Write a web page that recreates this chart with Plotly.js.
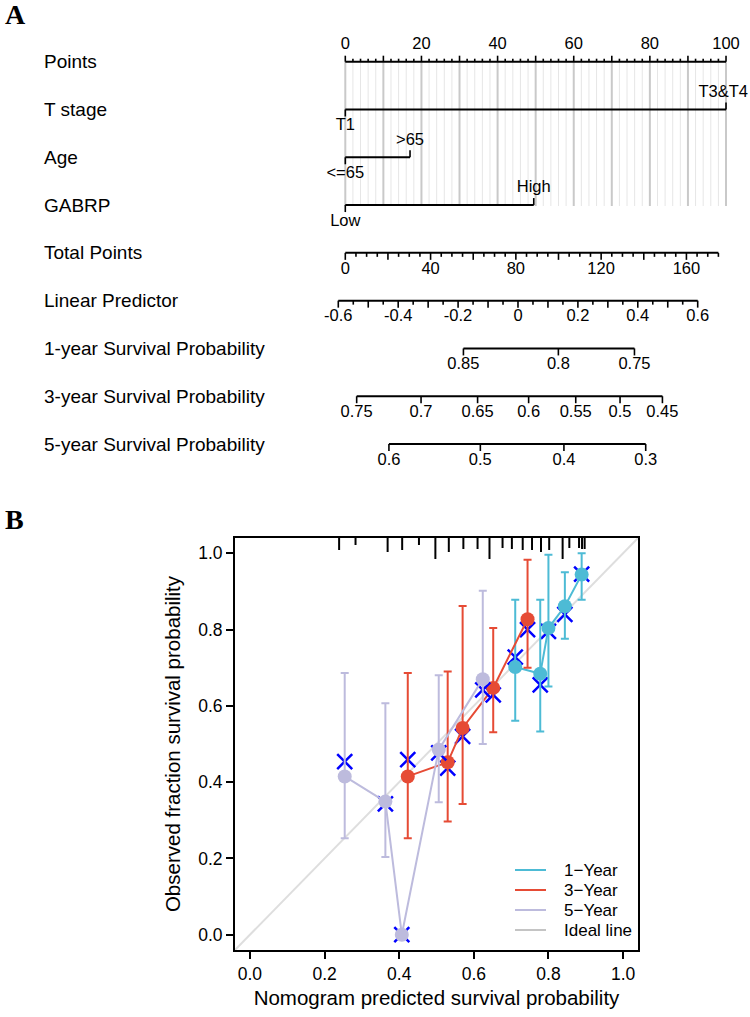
<!DOCTYPE html>
<html>
<head>
<meta charset="utf-8">
<script src="https://cdn.plot.ly/plotly-3.0.1.min.js"></script>
<style>html,body{margin:0;padding:0;background:#fff;}#chart{width:750px;height:1017px;}</style>
</head>
<body>
<div id="chart"></div>
<script>
// ---------------- Nomogram data (panel A) ----------------
const rowNames = ["Points", "T stage", "Age", "GABRP", "Total Points", "Linear Predictor",
  "1-year Survival Probability", "3-year Survival Probability", "5-year Survival Probability"];
const pointsLabels = [0, 20, 40, 60, 80, 100];
const tLevels = ["T1", "T3&T4"];
const tPoints = [0, 100];
const ageLevels = ["<=65", ">65"];
const agePoints = [0, 17];
const gabrpLevels = ["Low", "High"];
const gabrpPoints = [0, 49.5];
const totalPointsLabels = [0, 40, 80, 120, 160];
const totalPointsMax = 175;
const pointsPerTotal = 0.56;          // points-scale units per total point
const lpLabels = [-0.6, -0.4, -0.2, 0, 0.2, 0.4, 0.6];
const lpZeroPoints = 45.36;           // points-scale position of linear predictor 0
const pointsPerLP = 78.67;            // points-scale units per unit of linear predictor
const surv1Ticks = [0.85, 0.8, 0.75];
const surv3Ticks = [0.75, 0.7, 0.65, 0.6, 0.55, 0.5, 0.45];
const surv5Ticks = [0.6, 0.5, 0.4, 0.3];
const baselineCumHazard = [0.195, 0.493, 0.786]; // 1-, 3-, 5-year

// ---------------- Calibration data (panel B) ----------------
const seriesNames = ["1\u2212Year", "3\u2212Year", "5\u2212Year"];
const pred1 = [0.711, 0.778, 0.800, 0.844, 0.889];
const obs1  = [0.702, 0.684, 0.804, 0.861, 0.944];
const lo1   = [0.561, 0.533, 0.651, 0.776, 0.878];
const hi1   = [0.878, 0.878, 0.996, 0.950, 1.000];
const km1   = [0.728, 0.655, 0.795, 0.840, 0.945];

const pred3 = [0.423, 0.530, 0.570, 0.652, 0.744];
const obs3  = [0.415, 0.452, 0.542, 0.647, 0.827];
const lo3   = [0.253, 0.297, 0.343, 0.531, 0.700];
const hi3   = [0.686, 0.690, 0.862, 0.804, 0.983];
const km3   = [0.459, 0.437, 0.520, 0.629, 0.800];

const pred5 = [0.254, 0.363, 0.407, 0.506, 0.624];
const obs5  = [0.415, 0.349, 0.000, 0.485, 0.670];
const lo5   = [0.253, 0.204, 0.000, 0.347, 0.500];
const hi5   = [0.686, 0.607, 0.000, 0.680, 0.902];
const km5   = [0.454, 0.343, 0.000, 0.477, 0.642];

const rugX    = [0.239, 0.283, 0.369, 0.408, 0.453, 0.497, 0.533, 0.572, 0.610, 0.642, 0.677,
                 0.702, 0.731, 0.756, 0.780, 0.802, 0.838, 0.856, 0.882, 0.890, 0.897];
const rugFreq = [12, 7, 14, 12, 7, 21, 14, 11, 11, 21, 10, 11, 12, 12, 14, 12, 21, 10, 10, 11, 11];

const calTicks = [0, 0.2, 0.4, 0.6, 0.8, 1.0];
const legendNames = ["1\u2212Year", "3\u2212Year", "5\u2212Year", "Ideal line"];

// ---------------- styles ----------------
const FONT = "Liberation Sans, Arial, Helvetica, sans-serif";
const colors = ["#4DBBD5", "#E64B35", "#BDBBDD"];
const idealColor = "#DEDEDE";
const legendColors = ["#4DBBD5", "#E64B35", "#BDBBDD", "#C4C4C4"];
const TICKFONT = 16.5;

// geometry of the nomogram's shared x axis (points scale)
const W = 750, H = 1017;
const X_RANGE = [-90.70, 106.30];
const pxToPoints = px => X_RANGE[0] + px / W * (X_RANGE[1] - X_RANGE[0]);
const pointsToPx = p => (p - X_RANGE[0]) / (X_RANGE[1] - X_RANGE[0]) * W;

// row geometry (rows in y-units; 1 row = 47.79 px)
const PX = 1 / 47.79;
const LABOFF = 0.35;

function segs() { return {x: [], y: []}; }
function add(s, x0, y0, x1, y1) { s.x.push(x0, x1, null); s.y.push(y0, y1, null); }

const lines = segs(), ticks = segs(), gridMinor = segs(), gridMajor = segs();
const texts = {x: [], y: [], t: [], pos: []};
function lab(x, y, t) {
  // keep labels inside the page: if a centred label would overflow the right edge, right-align it
  const halfW = 0.3 * TICKFONT * t.length;
  if (pointsToPx(x) + halfW > W - 2) {
    texts.x.push(pxToPoints(W - 2)); texts.pos.push("middle left");
  } else {
    texts.x.push(x); texts.pos.push("middle center");
  }
  texts.y.push(y); texts.t.push(t);
}
function fmt(v) { return String(+v.toFixed(3)); }

// Points axis (row 0)
add(lines, 0, 0, 100, 0);
for (let p = 0; p <= 100; p += 2) {
  const major = p % 10 === 0;
  add(ticks, p, 0, p, -(major ? 6 : 3) * PX);
  add(major ? gridMajor : gridMinor, p, 0, p, 3.02);
}
pointsLabels.forEach(p => lab(p, -LABOFF, String(p)));

// categorical rows
function catRow(row, levels, pts) {
  add(lines, Math.min(...pts), row, Math.max(...pts), row);
  levels.forEach((lv, i) => {
    const dir = i % 2 === 0 ? 1 : -1;
    add(ticks, pts[i], row, pts[i], row + dir * 7 * PX);
    lab(pts[i], row + dir * LABOFF, lv);
  });
}
catRow(1, tLevels, tPoints);
catRow(2, ageLevels, agePoints);
catRow(3, gabrpLevels, gabrpPoints);

// Total points (row 4)
add(lines, 0, 4, totalPointsMax * pointsPerTotal, 4);
for (let t = 0; t <= totalPointsMax; t += 5) {
  add(ticks, t * pointsPerTotal, 4, t * pointsPerTotal, 4 + (t % 20 === 0 ? 7 : 4) * PX);
}
totalPointsLabels.forEach(t => lab(t * pointsPerTotal, 4 + LABOFF, String(t)));

// Linear predictor (row 5)
const lpToP = lp => lpZeroPoints + pointsPerLP * lp;
add(lines, lpToP(lpLabels[0]), 5, lpToP(lpLabels[lpLabels.length - 1]), 5);
for (let k = -12; k <= 12; k++) {
  const lp = k * 0.05;
  add(ticks, lpToP(lp), 5, lpToP(lp), 5 + (k % 2 === 0 ? 7 : 4) * PX);
}
lpLabels.forEach(v => lab(lpToP(v), 5 + LABOFF, fmt(v)));

// Survival rows (6,7,8)
const survToP = (s, h0) => lpToP(Math.log(-Math.log(s)) - Math.log(h0));
[surv1Ticks, surv3Ticks, surv5Ticks].forEach((tk, i) => {
  const row = 6 + i, h0 = baselineCumHazard[i];
  const ps = tk.map(s => survToP(s, h0));
  add(lines, Math.min(...ps), row, Math.max(...ps), row);
  tk.forEach((s, j) => {
    add(ticks, ps[j], row, ps[j], row + 7 * PX);
    lab(ps[j], row + LABOFF, fmt(s));
  });
});

const traces = [];
traces.push({x: gridMinor.x, y: gridMinor.y, mode: "lines", line: {color: "#E6E6E6", width: 1}, hoverinfo: "skip", xaxis: "x", yaxis: "y"});
traces.push({x: gridMajor.x, y: gridMajor.y, mode: "lines", line: {color: "#C9C9C9", width: 2}, hoverinfo: "skip", xaxis: "x", yaxis: "y"});
traces.push({x: lines.x, y: lines.y, mode: "lines", line: {color: "#000", width: 2}, hoverinfo: "skip", xaxis: "x", yaxis: "y"});
traces.push({x: ticks.x, y: ticks.y, mode: "lines", line: {color: "#000", width: 1.6}, hoverinfo: "skip", xaxis: "x", yaxis: "y"});
traces.push({x: texts.x, y: texts.y, text: texts.t, mode: "text", textposition: texts.pos,
  textfont: {family: FONT, size: TICKFONT, color: "#000"}, hoverinfo: "skip", xaxis: "x", yaxis: "y", cliponaxis: false});

// ---------------- Calibration traces ----------------
traces.push({x: [-0.04, 1.04], y: [-0.04, 1.04], mode: "lines", line: {color: idealColor, width: 2},
  hoverinfo: "skip", xaxis: "x2", yaxis: "y2"});

const rug = segs();
const rugMax = Math.max(...rugFreq);
rugX.forEach((x, i) => add(rug, x, 1.04, x, 1.04 - 0.055 * rugFreq[i] / rugMax));
traces.push({x: rug.x, y: rug.y, mode: "lines", line: {color: "#000", width: 2}, hoverinfo: "skip", xaxis: "x2", yaxis: "y2"});

const cal = [
  {pred: pred1, obs: obs1, lo: lo1, hi: hi1, km: km1},
  {pred: pred3, obs: obs3, lo: lo3, hi: hi3, km: km3},
  {pred: pred5, obs: obs5, lo: lo5, hi: hi5, km: km5}
];
cal.forEach((s, i) => {
  traces.push({
    x: s.pred, y: s.km, mode: "markers", name: seriesNames[i] + " KM",
    marker: {symbol: "x-thin-open", size: 15, color: "#0000FF", line: {color: "#0000FF", width: 2.5}},
    xaxis: "x2", yaxis: "y2"
  });
  traces.push({
    x: s.pred, y: s.obs, name: seriesNames[i], mode: "lines+markers",
    line: {color: colors[i], width: 2},
    marker: {color: colors[i], size: 14, symbol: "circle"},
    error_y: {type: "data", symmetric: false,
      array: s.hi.map((h, j) => h - s.obs[j]),
      arrayminus: s.lo.map((l, j) => s.obs[j] - l),
      color: colors[i], thickness: 2, width: 4},
    xaxis: "x2", yaxis: "y2"
  });
});

// ---------------- layout ----------------
const px2x = px => px / W, py2y = py => 1 - py / H;
const annotations = rowNames.map((n, i) => ({
  text: n, xref: "paper", yref: "y", x: px2x(42), y: i, xanchor: "left", yanchor: "middle",
  showarrow: false, font: {family: FONT, size: 19, color: "#000"}
}));
annotations.push({text: "<b>A</b>", xref: "paper", yref: "paper", x: px2x(3), y: py2y(14), xanchor: "left", yanchor: "middle",
  showarrow: false, font: {family: "Liberation Serif, Times New Roman, serif", size: 28, color: "#000"}});
annotations.push({text: "<b>B</b>", xref: "paper", yref: "paper", x: px2x(3), y: py2y(519), xanchor: "left", yanchor: "middle",
  showarrow: false, font: {family: "Liberation Serif, Times New Roman, serif", size: 28, color: "#000"}});

const shapes = [];
legendNames.forEach((n, i) => {
  const yy = py2y(870 + 20 * i);
  shapes.push({type: "line", xref: "paper", yref: "paper", x0: px2x(515), x1: px2x(546), y0: yy, y1: yy,
    line: {color: legendColors[i], width: 2}});
  annotations.push({text: n, xref: "paper", yref: "paper", x: px2x(562), y: yy, xanchor: "left", yanchor: "middle",
    showarrow: false, font: {family: FONT, size: 17, color: "#000"}});
});

const calAxis = {
  range: [-0.04, 1.04], showline: true, mirror: true, linecolor: "#000", linewidth: 2,
  ticks: "outside", ticklen: 7, tickwidth: 2, tickcolor: "#000",
  tickvals: calTicks, tickformat: ".1f", showgrid: false, zeroline: false,
  tickfont: {family: FONT, size: 17.5, color: "#000"}, fixedrange: true
};

const layout = {
  width: W, height: H, margin: {l: 0, r: 0, t: 0, b: 0}, paper_bgcolor: "#fff", plot_bgcolor: "rgba(0,0,0,0)",
  showlegend: false, font: {family: FONT, color: "#000"},
  xaxis: {domain: [0, 1], range: X_RANGE, visible: false, fixedrange: true},
  yaxis: {domain: [0, 1], range: [19.99, -1.291], visible: false, fixedrange: true},
  xaxis2: Object.assign({}, calAxis, {domain: [px2x(235), px2x(638)], anchor: "y2",
    title: {text: "Nomogram predicted survival probability", font: {family: FONT, size: 20.5, color: "#000"}, standoff: 8}}),
  yaxis2: Object.assign({}, calAxis, {domain: [py2y(950), py2y(538)], anchor: "x2",
    title: {text: "Observed fraction survival probability", font: {family: FONT, size: 20.5, color: "#000"}, standoff: 12}}),
  annotations: annotations, shapes: shapes
};

Plotly.newPlot("chart", traces, layout, {displayModeBar: false, staticPlot: true});
</script>
</body>
</html>
